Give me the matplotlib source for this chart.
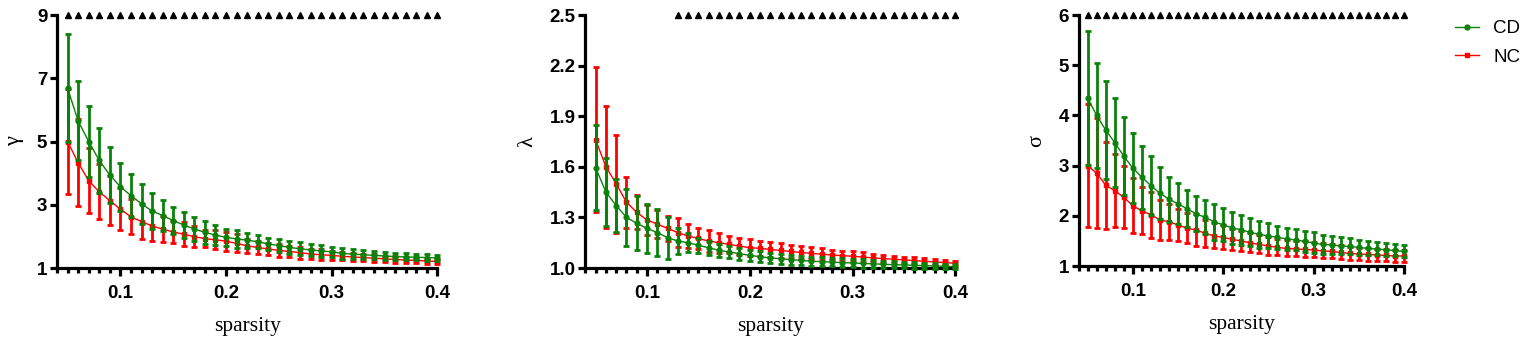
import matplotlib
matplotlib.use("Agg")
import matplotlib.pyplot as plt
import numpy as np
from matplotlib.lines import Line2D

# x values (sparsity) shared by all three panels
sparsity = [0.05, 0.06, 0.07, 0.08, 0.09, 0.10, 0.11, 0.12, 0.13, 0.14, 0.15, 0.16,
            0.17, 0.18, 0.19, 0.20, 0.21, 0.22, 0.23, 0.24, 0.25, 0.26, 0.27, 0.28,
            0.29, 0.30, 0.31, 0.32, 0.33, 0.34, 0.35, 0.36, 0.37, 0.38, 0.39, 0.40]

# gamma panel
gamma_cd = [6.69, 5.65, 5.00, 4.40, 3.94, 3.57, 3.29, 3.03, 2.80, 2.66, 2.50, 2.36,
            2.23, 2.13, 2.04, 1.97, 1.92, 1.88, 1.83, 1.76, 1.71, 1.65, 1.61, 1.57,
            1.54, 1.51, 1.46, 1.44, 1.42, 1.40, 1.38, 1.36, 1.35, 1.34, 1.33, 1.32]
gamma_cd_sd = [1.72, 1.25, 1.13, 1.02, 0.88, 0.76, 0.67, 0.63, 0.56, 0.50, 0.44, 0.42,
               0.39, 0.36, 0.32, 0.27, 0.28, 0.24, 0.21, 0.20, 0.21, 0.21, 0.21, 0.19,
               0.18, 0.17, 0.16, 0.15, 0.14, 0.13, 0.13, 0.12, 0.11, 0.10, 0.10, 0.09]
gamma_nc = [5.00, 4.33, 3.76, 3.41, 3.13, 2.86, 2.62, 2.47, 2.33, 2.23, 2.14, 2.07,
            1.99, 1.93, 1.89, 1.85, 1.78, 1.70, 1.65, 1.60, 1.56, 1.52, 1.49, 1.44,
            1.42, 1.40, 1.37, 1.35, 1.33, 1.31, 1.29, 1.27, 1.25, 1.24, 1.22, 1.21]
gamma_nc_sd = [1.66, 1.37, 1.03, 0.87, 0.77, 0.66, 0.55, 0.55, 0.48, 0.40, 0.36, 0.37,
               0.33, 0.27, 0.30, 0.30, 0.28, 0.23, 0.21, 0.20, 0.20, 0.18, 0.19, 0.17,
               0.17, 0.15, 0.13, 0.12, 0.12, 0.12, 0.10, 0.10, 0.10, 0.08, 0.08, 0.08]

# lambda panel
lambda_cd = [1.595, 1.45, 1.37, 1.30, 1.265, 1.235, 1.21, 1.18, 1.16, 1.15, 1.135, 1.12,
             1.105, 1.095, 1.085, 1.075, 1.067, 1.06, 1.055, 1.05, 1.045, 1.04, 1.038, 1.035,
             1.032, 1.03, 1.027, 1.025, 1.022, 1.02, 1.018, 1.016, 1.014, 1.012, 1.01, 1.008]
lambda_cd_sd = [0.25, 0.20, 0.155, 0.17, 0.16, 0.145, 0.14, 0.125, 0.075, 0.055, 0.045, 0.04,
                0.04, 0.035, 0.035, 0.033, 0.033, 0.03, 0.03, 0.03, 0.028, 0.028, 0.027, 0.026,
                0.025, 0.025, 0.024, 0.023, 0.022, 0.02, 0.02, 0.019, 0.018, 0.017, 0.016, 0.015]
lambda_nc = [1.76, 1.60, 1.50, 1.39, 1.33, 1.285, 1.26, 1.235, 1.21, 1.19, 1.175, 1.16,
             1.15, 1.14, 1.13, 1.12, 1.117, 1.11, 1.104, 1.098, 1.092, 1.087, 1.082, 1.077,
             1.073, 1.07, 1.065, 1.06, 1.056, 1.052, 1.048, 1.044, 1.04, 1.036, 1.032, 1.028]
lambda_nc_sd = [0.43, 0.36, 0.29, 0.15, 0.10, 0.09, 0.085, 0.075, 0.085, 0.07, 0.065, 0.065,
                0.06, 0.05, 0.05, 0.05, 0.045, 0.043, 0.042, 0.04, 0.038, 0.036, 0.034, 0.032,
                0.03, 0.03, 0.028, 0.026, 0.024, 0.022, 0.02, 0.019, 0.018, 0.016, 0.015, 0.014]

# sigma panel
sigma_cd = [4.35, 4.00, 3.71, 3.46, 3.19, 2.95, 2.77, 2.60, 2.45, 2.33, 2.24, 2.14,
            2.04, 1.97, 1.88, 1.82, 1.76, 1.72, 1.67, 1.63, 1.60, 1.57, 1.54, 1.52,
            1.49, 1.46, 1.43, 1.42, 1.40, 1.39, 1.37, 1.35, 1.34, 1.32, 1.31, 1.29]
sigma_cd_sd = [1.34, 1.05, 0.98, 0.88, 0.77, 0.69, 0.63, 0.59, 0.52, 0.45, 0.41, 0.37,
               0.35, 0.34, 0.36, 0.33, 0.32, 0.30, 0.28, 0.27, 0.25, 0.23, 0.22, 0.21,
               0.21, 0.21, 0.19, 0.18, 0.17, 0.16, 0.15, 0.14, 0.13, 0.13, 0.12, 0.12]
sigma_nc = [3.00, 2.85, 2.61, 2.50, 2.37, 2.20, 2.10, 2.02, 1.92, 1.88, 1.82, 1.75,
            1.72, 1.65, 1.60, 1.57, 1.53, 1.50, 1.46, 1.43, 1.40, 1.37, 1.35, 1.34,
            1.33, 1.32, 1.30, 1.29, 1.27, 1.25, 1.24, 1.23, 1.22, 1.21, 1.20, 1.20]
sigma_nc_sd = [1.22, 1.10, 0.87, 0.73, 0.62, 0.55, 0.47, 0.46, 0.40, 0.36, 0.32, 0.30,
               0.32, 0.27, 0.25, 0.24, 0.21, 0.20, 0.19, 0.18, 0.18, 0.16, 0.16, 0.15,
               0.16, 0.15, 0.15, 0.14, 0.14, 0.13, 0.12, 0.13, 0.12, 0.12, 0.12, 0.12]

# where the significance triangles start in each panel
sig_start = [0.05, 0.13, 0.05]

GREEN = '#0a820a'
RED = '#ff0000'
SANS = 'Liberation Sans'
SERIF = 'Liberation Serif'


def plotPanel(ax, cd, cd_sd, nc, nc_sd, yticks, ylabel, sigFrom, fmt):
    """Draws one panel: two mean curves with error bars plus the triangle row on top"""
    ax.errorbar(sparsity, nc, yerr=nc_sd, color=RED, marker='s', ms=3.4, lw=1.0,
                elinewidth=2.0, capsize=2.5, capthick=2.0, zorder=3, clip_on=False)
    ax.errorbar(sparsity, cd, yerr=cd_sd, color=GREEN, marker='o', ms=3.4, lw=1.0,
                elinewidth=2.0, capsize=2.5, capthick=2.0, zorder=4, clip_on=False)

    ax.set_xlim(0.04, 0.40)
    ax.set_ylim(yticks[0], yticks[-1])

    # significance markers
    sx = [s for s in sparsity if s >= sigFrom - 1e-9]
    ax.plot(sx, [yticks[-1]] * len(sx), ls='none', marker='^', ms=3.8, color='black',
            clip_on=False, zorder=5)

    for side in ['top', 'right']:
        ax.spines[side].set_visible(False)
    for side in ['left', 'bottom']:
        ax.spines[side].set_linewidth(2.3)

    ax.set_xticks([0.1, 0.2, 0.3, 0.4])
    ax.set_xticklabels(['0.1', '0.2', '0.3', '0.4'])
    ax.set_xticks(sparsity[:5] + sparsity[6:15] + sparsity[16:25] + sparsity[26:35] + [0.04], minor=True)
    ax.set_yticks(yticks)
    ax.set_yticklabels([fmt % v for v in yticks])

    ax.tick_params(axis='x', which='major', length=6, width=2.3, pad=6)
    ax.tick_params(axis='x', which='minor', length=3.5, width=2.3)
    ax.tick_params(axis='y', which='major', length=5, width=2.3, pad=2)
    for lab in ax.get_xticklabels() + ax.get_yticklabels():
        lab.set_fontfamily(SANS)
        lab.set_fontweight('bold')
        lab.set_fontsize(13.5)

    ax.set_xlabel('sparsity', family=SERIF, fontsize=15.5, labelpad=11)
    ax.set_ylabel(ylabel, family=SERIF, fontsize=16, labelpad=9)


fig = plt.figure(figsize=(15.24, 3.46), dpi=100)

ax1 = fig.add_axes([0.0374, 0.2254, 0.2496, 0.7312])
ax2 = fig.add_axes([0.3841, 0.2254, 0.2427, 0.7312])
ax3 = fig.add_axes([0.7077, 0.2312, 0.2136, 0.7254])

plotPanel(ax1, gamma_cd, gamma_cd_sd, gamma_nc, gamma_nc_sd, [1, 3, 5, 7, 9], '\u03b3', sig_start[0], '%d')
plotPanel(ax2, lambda_cd, lambda_cd_sd, lambda_nc, lambda_nc_sd, [1.0, 1.3, 1.6, 1.9, 2.2, 2.5], '\u03bb', sig_start[1], '%.1f')
plotPanel(ax3, sigma_cd, sigma_cd_sd, sigma_nc, sigma_nc_sd, [1, 2, 3, 4, 5, 6], '\u03c3', sig_start[2], '%d')

handles = [Line2D([0], [0], color=GREEN, marker='o', ms=3.5, lw=1.0),
           Line2D([0], [0], color=RED, marker='s', ms=3.5, lw=1.0)]
fig.legend(handles, ['CD', 'NC'], loc='upper left', bbox_to_anchor=(1455 / 1524, 1 - 20 / 346),
           frameon=False, borderpad=0, borderaxespad=0, handlelength=1.3, handletextpad=0.75,
           labelspacing=0.6, prop={'family': SANS, 'size': 13.5})

fig.savefig('out.png', dpi=100)
